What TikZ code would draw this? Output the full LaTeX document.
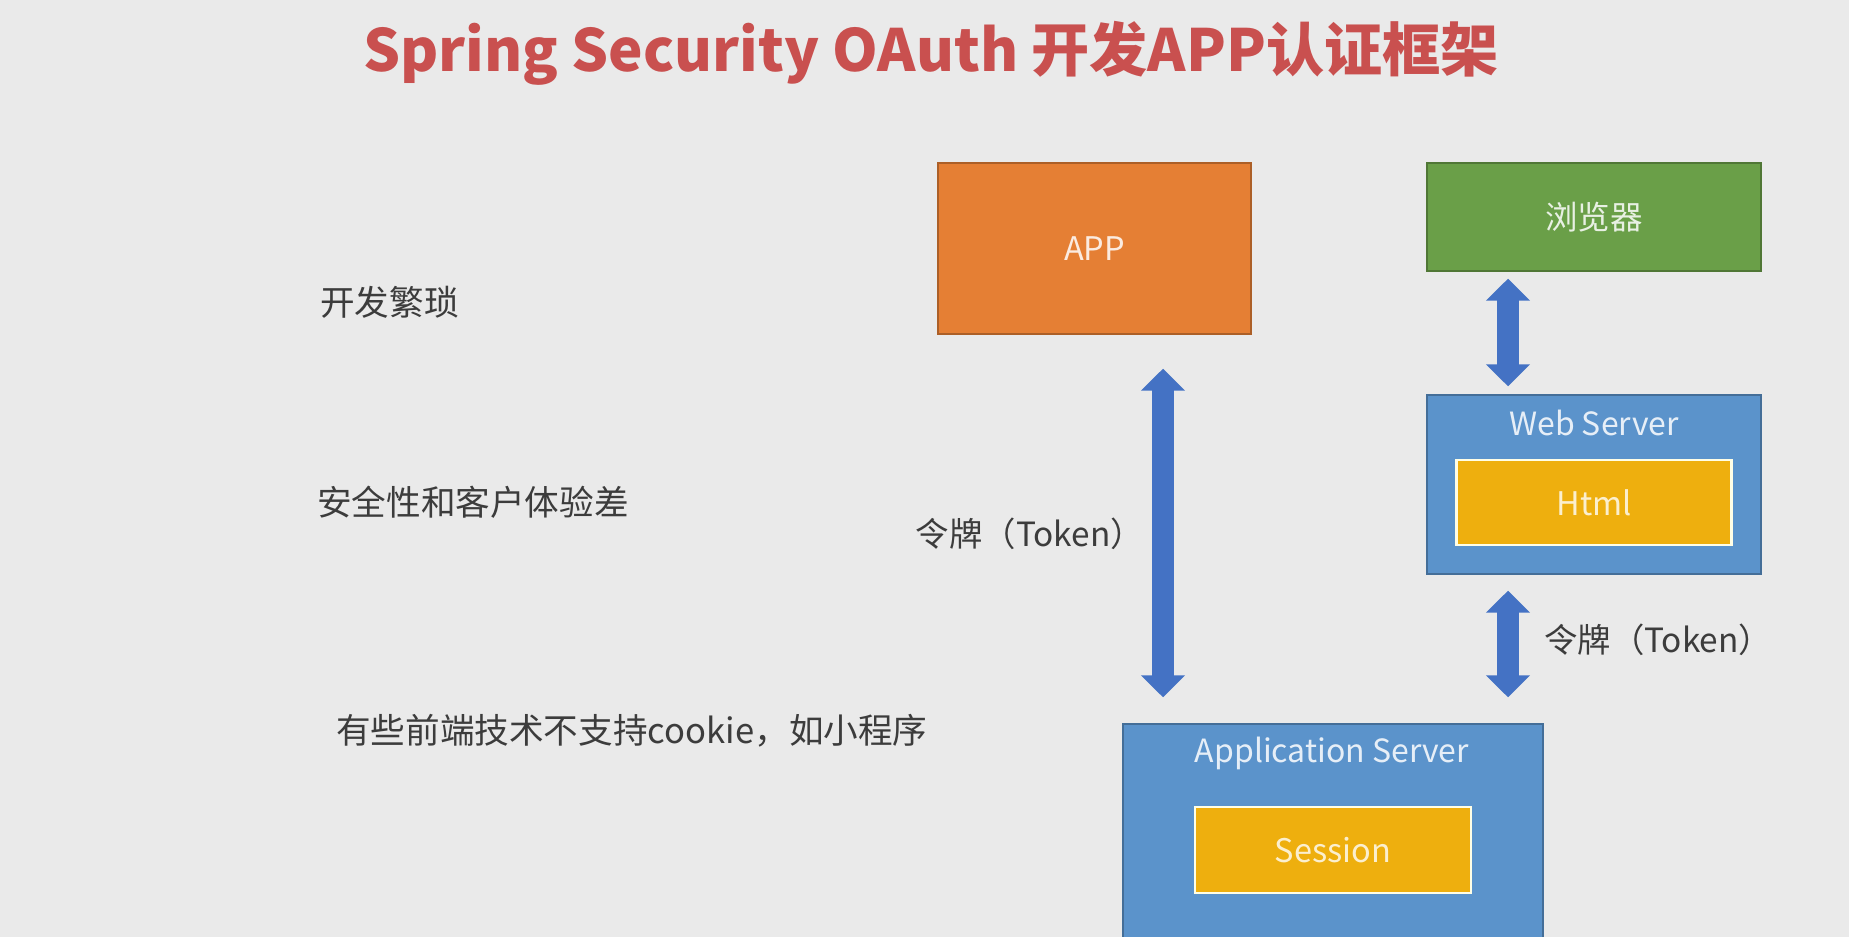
\documentclass[tikz,border=0pt]{standalone}
\usepackage{fontspec}
\setmainfont{Noto Sans CJK SC}
\usetikzlibrary{arrows.meta}

\definecolor{bggray}{HTML}{EAEAEA}
\definecolor{titlered}{HTML}{C9504F}
\definecolor{apporange}{HTML}{E57F34}
\definecolor{browsergreen}{HTML}{6A9F48}
\definecolor{serverblue}{HTML}{5B93CB}
\definecolor{innergold}{HTML}{EEAF0E}
\definecolor{arrowblue}{HTML}{4472C4}
\definecolor{bodygray}{HTML}{3C3C3C}

\begin{document}
\begin{tikzpicture}[
    box/.style={draw=#1!75!black, fill=#1, line width=0.8pt, inner sep=0pt,
      text=white, text opacity=0.85, font=\fontsize{18.5}{22}\selectfont},
    innerbox/.style={draw=white!90!yellow, fill=innergold, line width=1.6pt, inner sep=0pt,
      text=white, text opacity=0.8, font=\fontsize{18.5}{22}\selectfont},
    boxtext/.style={text=white, text opacity=0.85, font=\fontsize{18.2}{22}\selectfont},
    bodytext/.style={text=bodygray, anchor=west, font=\fontsize{19.7}{23}\selectfont},
    tokenarrow/.style={arrowblue, line width=0.44cm,
      {Triangle[width=0.86cm,length=0.44cm]}-{Triangle[width=0.86cm,length=0.44cm]}}
  ]
    \fill[bggray] (0, 0) rectangle (36.98, -18.74);
    \useasboundingbox (0, 0) rectangle (36.98, -18.74);

    \node[text=titlered, font=\fontsize{33.1}{39}\selectfont\bfseries] (title) at (18.62, -1.06)
      {Spring Security OAuth 开发APP认证框架};

    \node[bodytext] (hard) at (6.28, -6.04) {开发繁琐};
    \node[bodytext] (unsafe) at (6.22, -10.04) {安全性和客户体验差};
    \node[bodytext] (nocookie) at (6.6, -14.62) {有些前端技术不支持cookie，如小程序};

    \node[box=apporange, minimum width=6.26cm, minimum height=3.42cm] (app) at (21.89, -4.97) {APP};

    \node[box=browsergreen, minimum width=6.68cm, minimum height=2.16cm] (browser) at (31.88, -4.34) {浏览器};

    \node[box=serverblue, minimum width=6.68cm, minimum height=3.58cm] (web) at (31.88, -9.69) {};
    \node[boxtext] (weblabel) at (31.88, -8.46) {Web Server};
    \node[innerbox, minimum width=5.5cm, minimum height=1.7cm] (html) at (31.88, -10.05) {Html};

    \node[box=serverblue, minimum width=8.4cm, minimum height=4.3cm] (appsrv) at (26.66, -16.63) {};
    \node[boxtext] (appsrvlabel) at (26.64, -15.06) {Application Server};
    \node[innerbox, minimum width=5.52cm, minimum height=1.72cm] (session) at (26.66, -17.0) {Session};

    \draw[tokenarrow, shorten <=0.68cm, shorten >=0.52cm]
      ([xshift=1.37cm]app.south) -- ([xshift=1.37cm]app.south |- appsrv.north);
    \node[text=bodygray, anchor=east, font=\fontsize{19}{23}\selectfont] (lefttoken) at (23.0, -10.68)
      {令牌（Token）};

    \draw[tokenarrow, shorten <=0.14cm, shorten >=0.16cm]
      ([xshift=-1.72cm]browser.south) -- ([xshift=-1.72cm]browser.south |- web.north);

    \draw[tokenarrow, shorten <=0.32cm, shorten >=0.52cm]
      ([xshift=-1.72cm]web.south) -- ([xshift=-1.72cm]web.south |- appsrv.north);
    \node[text=bodygray, anchor=west, font=\fontsize{19}{23}\selectfont] (righttoken) at (30.76, -12.8)
      {令牌（Token）};
\end{tikzpicture}
\end{document}
